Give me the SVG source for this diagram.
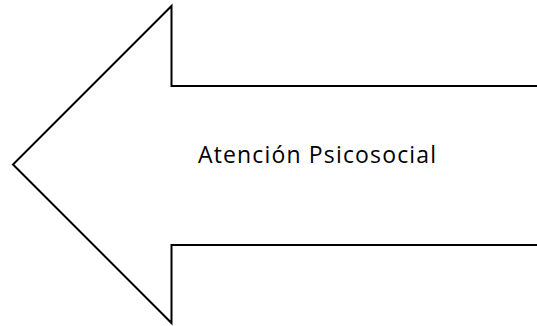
<svg xmlns="http://www.w3.org/2000/svg" width="537" height="326" viewBox="0 0 537 326">
<style>
.outline{fill:#fff;stroke:#000;stroke-width:2;stroke-linejoin:miter}
.lbl{font-family:"Open Sans","Liberation Sans",sans-serif;font-size:23px;fill:#000}
</style>
<rect width="537" height="326" fill="#fff"/>
<g id="arrow">
<path class="outline" d="M538,86 L171.5,86 L171.5,6 L13,164.5 L171.5,323 L171.5,245 L538,245"/>
<text class="lbl" x="198" y="163" textLength="238" lengthAdjust="spacing">Atención Psicosocial</text>
</g>
</svg>
